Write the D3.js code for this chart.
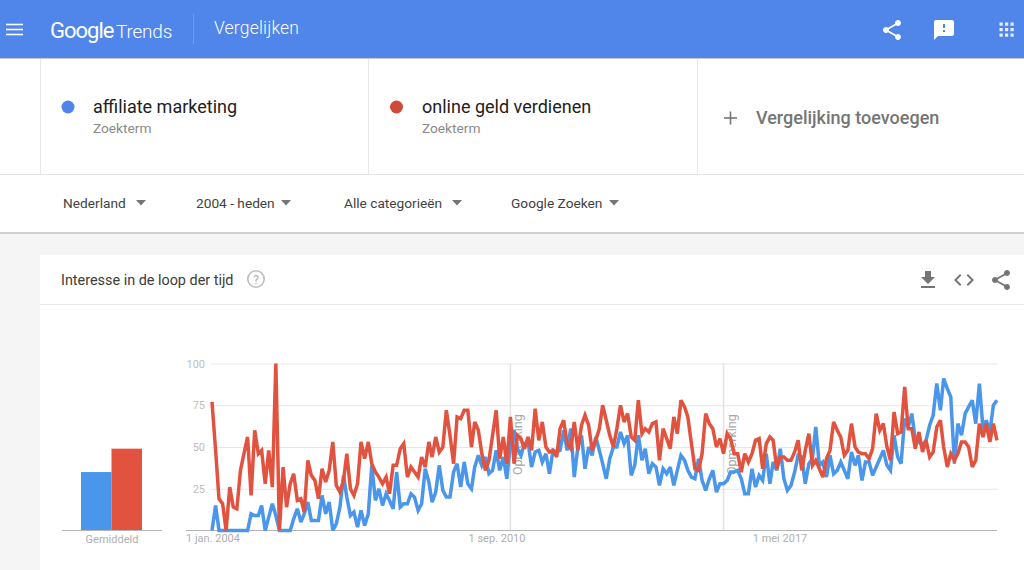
<!DOCTYPE html>
<html><head><meta charset="utf-8">
<script src="https://cdn.jsdelivr.net/npm/d3@7/dist/d3.min.js"></script>
<style>
html,body{margin:0;padding:0;background:#f5f5f5;overflow:hidden}
svg{display:block}
text{font-family:Roboto,"Noto Sans",sans-serif}
</style></head><body>
<svg id="c" width="1024" height="570"></svg>
<script>
const startDate = new Date(Date.UTC(2004,0,1));
const affiliateMarketing = [
0,15,0,0,0,0,0,0,0,0,
0,10,9,9,15,0,8,16,9,0,
0,0,0,7,13,5,10,17,6,6,
6,21,10,17,0,4,14,33,20,9,
11,2,12,3,10,39,18,25,15,22,
18,13,35,14,16,16,22,20,12,16,
37,29,17,23,39,24,20,20,35,40,
26,41,28,25,38,45,39,44,34,36,
48,36,44,31,52,60,49,45,52,53,
38,47,48,41,46,34,48,47,48,60,
48,61,32,50,57,37,50,45,56,48,
40,31,43,50,50,59,52,57,33,39,
57,42,49,34,40,38,27,37,34,38,
27,36,45,42,36,32,31,43,30,24,
31,36,23,28,28,30,35,35,36,31,
22,22,37,26,33,30,46,28,41,36,
49,31,24,27,35,45,44,28,40,43,
62,39,41,32,45,34,36,41,36,31,
47,39,45,30,41,41,33,38,43,48,
39,36,57,44,40,67,62,70,54,53,
51,54,63,69,88,72,91,85,80,40,
64,57,70,74,78,64,88,61,66,59,
75,78];
const onlineGeldVerdienen = [
77,48,19,16,0,26,14,13,36,46,
56,21,60,46,48,28,48,26,100,0,
38,14,28,34,18,19,11,42,33,30,
19,37,29,36,53,27,23,30,46,25,
21,28,53,43,53,40,35,32,28,32,
22,39,39,49,52,32,38,35,32,44,
38,53,44,56,47,50,72,57,40,68,
67,72,72,50,65,60,46,36,42,57,
72,43,56,40,68,40,57,55,49,56,
48,73,54,65,50,47,48,44,61,66,
52,49,65,48,63,69,63,48,54,61,
75,66,57,50,61,75,65,70,56,54,
78,58,61,59,64,65,42,61,55,49,
68,58,78,74,68,52,37,36,46,70,
64,61,50,55,46,58,55,46,46,35,
46,41,46,54,55,37,52,56,54,37,
44,44,42,42,47,54,36,48,58,39,
42,37,32,43,48,65,60,56,45,48,
64,50,47,46,46,43,49,70,60,64,
50,42,71,58,59,86,61,61,49,59,
47,54,44,47,62,66,50,38,46,42,
46,53,53,50,38,42,64,56,64,53,
64,54];
const seriesNames = ["affiliate marketing","online geld verdienen"];
const averages = [35,49];
const averageLabel = ["Gemiddeld"];
const yTicks = [25,50,75,100];
const xTickDates = [new Date(Date.UTC(2004,0,1)),new Date(Date.UTC(2010,8,1)),new Date(Date.UTC(2017,4,1))];
const xTickLabels = ["1 jan. 2004","1 sep. 2010","1 mei 2017"];
const noteDates = [new Date(Date.UTC(2011,0,1)),new Date(Date.UTC(2016,0,1))];
const noteLabel = "Opmerking";
const filters = ["Nederland","2004 - heden","Alle categorieën","Google Zoeken"];

const BLUE="#4a96ea", RED="#e2533f";
const svg=d3.select("#c");
const rect=(x,y,w,h,f)=>svg.append("rect").attr("x",x).attr("y",y).attr("width",w).attr("height",h).attr("fill",f);
const txt=(s,x,y,size,fill,extra={})=>{const t=svg.append("text").attr("x",x).attr("y",y).attr("font-size",size).attr("fill",fill).text(s);
  Object.entries(extra).forEach(([k,v])=>t.attr(k,v));return t;};
const icon=(d,x,y,scale,fill)=>svg.append("path").attr("d",d).attr("fill",fill).attr("transform",`translate(${x},${y}) scale(${scale})`);

// page blocks
rect(0,0,1024,570,"#f5f5f5");
rect(0,58,1024,116,"#fff");
rect(0,174,1024,1,"#e4e4e4");
rect(0,175,1024,57,"#fff");
rect(0,232,1024,2,"#cfcfcf");
rect(0,0,1024,58,"#5085ea");
rect(0,58,1024,1,"#c9c9c9");
[40,368,697].forEach(x=>rect(x,59,1,115,"#e6e6e6"));
rect(40,255,984,315,"#fff");
rect(40,304,984,1,"#e8e8e8");

// header
[24.5,29.5,34.5].forEach(y=>rect(6,y-0.8,17,1.6,"#fff"));
txt("Google",50,38,22,"#fff",{"letter-spacing":"-1"});
txt("Trends",116,38,19,"#fff",{"font-weight":300,"letter-spacing":"-0.2"});
rect(193,14,1,30,"#6f9bee");
txt("Vergelijken",214,34,17.5,"#fff",{"letter-spacing":"0.2","font-weight":300});
const shareD="M18 16.08c-.76 0-1.44.3-1.96.77L8.91 12.7c.05-.23.09-.46.09-.7s-.04-.47-.09-.7l7.05-4.11c.54.5 1.25.81 2.04.81 1.66 0 3-1.34 3-3s-1.34-3-3-3-3 1.34-3 3c0 .24.04.47.09.7L8.04 9.81C7.5 9.31 6.79 9 6 9c-1.66 0-3 1.34-3 3s1.34 3 3 3c.79 0 1.5-.31 2.04-.81l7.12 4.16c-.05.21-.08.43-.08.65 0 1.61 1.31 2.92 2.92 2.92 1.61 0 2.92-1.31 2.92-2.92s-1.31-2.92-2.92-2.92z";
icon(shareD,880,18,1,"#fff");
icon("M20 2H4c-1.1 0-1.99.9-1.99 2L2 22l4-4h14c1.1 0 2-.9 2-2V4c0-1.1-.9-2-2-2zm-7 12h-2v-2h2v2zm0-4h-2V6h2v4z",932,18,1,"#fff");
d3.range(3).forEach(r=>d3.range(3).forEach(c=>rect(999.5+c*5.5,22.5+r*5.5,3.2,3.2,"#e8eefc")));

// search terms
svg.append("circle").attr("cx",68).attr("cy",107).attr("r",6.5).attr("fill","#4f85ea");
svg.append("circle").attr("cx",396.5).attr("cy",107).attr("r",6.5).attr("fill","#cf4a3a");
txt(seriesNames[0],93,113,18,"#212121");
txt("Zoekterm",93,133,13.7,"#8a8a8a");
txt(seriesNames[1],422,113,18,"#212121");
txt("Zoekterm",422,133,13.7,"#8a8a8a");
rect(724,117.2,13,1.6,"#757575"); rect(729.7,111.5,1.6,13,"#757575");
txt("Vergelijking toevoegen",756,124,18,"#757575",{"font-weight":500});

// filters
const filterX=[63,196,344,511], triX=[141,286,457,614];
filters.forEach((f,i)=>{
  txt(f,filterX[i],207.5,13.7,"#424242");
  svg.append("path").attr("d",`M${triX[i]-5},200 h10 l-5,5.5 z`).attr("fill","#757575");
});

// card header
txt("Interesse in de loop der tijd",61,285,14.4,"#3c3c3c");
svg.append("circle").attr("cx",256).attr("cy",279).attr("r",8.2).attr("fill","none").attr("stroke","#bdbdbd").attr("stroke-width",1.6);
txt("?",256,283.5,12,"#b0b0b0",{"text-anchor":"middle"});
icon("M19 9h-4V3H9v6H5l7 7 7-7zM5 18v2h14v-2H5z",916,268,1,"#757575");
icon("M9.4 16.6L4.8 12l4.6-4.6L8 6l-6 6 6 6 1.4-1.4zm5.2 0l4.6-4.6-4.6-4.6L16 6l6 6-6 6-1.4-1.4z",952,268,1,"#757575");
icon(shareD,989,268,1,"#757575");

// scales
const y=d3.scaleLinear().domain([0,100]).range([530.5,363.5]);
const x=d3.scaleUtc().domain([startDate,d3.utcMonth.offset(startDate,affiliateMarketing.length-1)]).range([212,997]);
const dates=affiliateMarketing.map((_,i)=>d3.utcMonth.offset(startDate,i));

// y axis and gridlines
const yAxis=svg.append("g").attr("transform","translate(211,0)")
  .call(d3.axisLeft(y).tickValues(yTicks).tickSize(-787).tickPadding(6));
yAxis.select(".domain").remove();
yAxis.selectAll("line").attr("stroke","#e6e6e6");
yAxis.selectAll("text").attr("font-size",11).attr("fill","#bdbdbd").style("font-family","Roboto");

// notes
noteDates.forEach(d=>{
  svg.append("line").attr("x1",x(d)).attr("x2",x(d)).attr("y1",363.5).attr("y2",530).attr("stroke","#e2e2e2").attr("stroke-width",1.5);
  txt(noteLabel,0,0,12.5,"#a8a8a8",{transform:`translate(${x(d)+12},475) rotate(-90)`});
});

// x axis
const xAxis=svg.append("g").attr("transform","translate(0,530.5)")
  .call(d3.axisBottom(x).tickValues(xTickDates).tickSize(0).tickPadding(4).tickFormat((d,i)=>xTickLabels[i]));
xAxis.select(".domain").attr("stroke","#b5b5b5").attr("d","M186,0H997");
xAxis.selectAll("text").attr("font-size",11).attr("fill","#b0b0b0").style("font-family","Roboto");
xAxis.selectAll(".tick").attr("transform",(d,i)=>`translate(${[213,497,780][i]},0)`);

// lines
const line=d3.line().x((d,i)=>x(dates[i])).y(d=>y(d));
[[affiliateMarketing,BLUE],[onlineGeldVerdienen,RED]].forEach(([s,c])=>{
  svg.append("path").datum(s).attr("d",line).attr("fill","none").attr("stroke",c).attr("stroke-width",3.5).attr("stroke-linejoin","miter").attr("stroke-miterlimit",3);
});

// average bars
const bx=d3.scaleBand().domain(seriesNames).range([81,142]);
svg.selectAll(".avg").data(averages).join("rect").attr("class","avg")
  .attr("x",(d,i)=>bx(seriesNames[i])).attr("width",bx.bandwidth())
  .attr("y",d=>y(d)).attr("height",d=>y(0)-y(d)).attr("fill",(d,i)=>i?RED:BLUE);
rect(62,530,100,1,"#b5b5b5");
txt(averageLabel[0],112,543,11,"#b0b0b0",{"text-anchor":"middle"});
</script>
</body></html>
